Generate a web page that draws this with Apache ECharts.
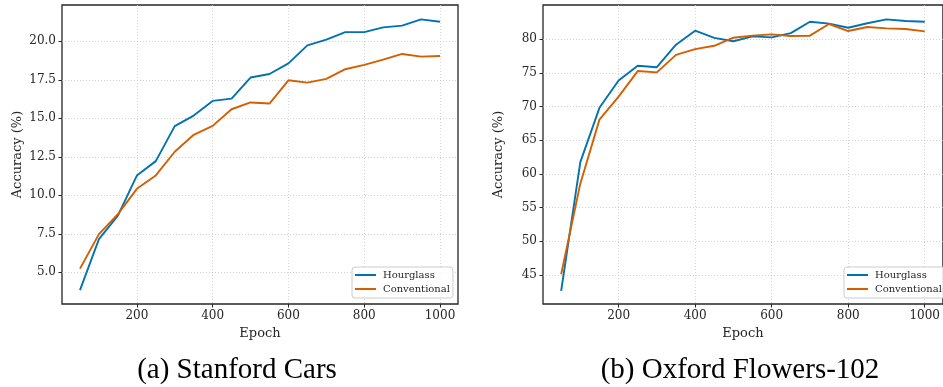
<!DOCTYPE html>
<html>
<head>
<meta charset="utf-8">
<script src="https://cdn.jsdelivr.net/npm/echarts@6/dist/echarts.min.js"></script>
<style>
html, body { margin: 0; padding: 0; background: #fff; }
#chart { width: 943px; height: 387px; }
</style>
</head>
<body>
<div id="chart"></div>
<script>
//数据
var epochs = [50, 100, 150, 200, 250, 300, 350, 400, 450, 500, 550, 600, 650, 700, 750, 800, 850, 900, 950, 1000];
var carsHourglass = [3.84, 7.15, 8.68, 11.28, 12.22, 14.49, 15.18, 16.13, 16.28, 17.65, 17.88, 18.57, 19.74, 20.11, 20.60, 20.60, 20.91, 21.02, 21.43, 21.27];
var carsConventional = [5.24, 7.48, 8.78, 10.42, 11.29, 12.83, 13.93, 14.51, 15.59, 16.03, 15.96, 17.47, 17.32, 17.56, 18.19, 18.47, 18.81, 19.18, 19.01, 19.05];
var flowersHourglass = [42.65, 61.75, 69.8, 73.86, 76.04, 75.82, 79.16, 81.24, 80.18, 79.67, 80.4, 80.25, 80.87, 82.57, 82.28, 81.68, 82.35, 82.92, 82.67, 82.57];
var flowersConventional = [45.12, 58.55, 68.05, 71.45, 75.25, 75.05, 77.65, 78.5, 79.0, 80.2, 80.5, 80.7, 80.45, 80.5, 82.23, 81.19, 81.78, 81.58, 81.49, 81.14];
var xTicks = [200, 400, 600, 800, 1000];
var carsYTicks = [5, 7.5, 10, 12.5, 15, 17.5, 20];
var flowersYTicks = [45, 50, 55, 60, 65, 70, 75, 80];
var seriesNames = ['Hourglass', 'Conventional'];
var captions = ['(a) Stanford Cars', '(b) Oxford Flowers-102'];

var blue = '#0072b2';
var orange = '#d55e00';
var ink = '#262626';
var font = 'DejaVu Serif';

function pairs(ys) {
    var out = [];
    for (var i = 0; i < epochs.length; i++) out.push([epochs[i], ys[i]]);
    return out;
}

function xAxisOf(idx) {
    return {
        type: 'value', gridIndex: idx, min: 2.5, max: 1047.5,
        name: 'Epoch', nameLocation: 'middle', nameGap: 19,
        nameTextStyle: { fontFamily: font, fontSize: 13, color: ink },
        axisLine: { show: false },
        axisTick: { show: true, length: 3.5, customValues: xTicks, lineStyle: { color: ink, width: 1 } },
        axisLabel: {
            customValues: xTicks, margin: 6, fontFamily: font, fontSize: 12, color: ink,
            formatter: function (v) { return String(v); }
        },
        splitLine: { show: true, lineStyle: { color: '#c8c8c8', type: [1, 2], width: 0.8 } }
    };
}

function yAxisOf(idx, min, max, ticks, digits) {
    return {
        type: 'value', gridIndex: idx, min: min, max: max,
        name: 'Accuracy (%)', nameLocation: 'middle', nameGap: 38,
        nameTextStyle: { fontFamily: font, fontSize: 13, color: ink },
        axisLine: { show: false },
        axisTick: { show: true, length: 3.5, customValues: ticks, lineStyle: { color: ink, width: 1 } },
        axisLabel: {
            customValues: ticks, margin: 6, fontFamily: font, fontSize: 12, color: ink,
            formatter: function (v) { return v.toFixed(digits); }
        },
        splitLine: { show: true, lineStyle: { color: '#c8c8c8', type: [1, 2], width: 0.8 } }
    };
}

function lineOf(name, ys, idx, color) {
    return {
        name: name, type: 'line', xAxisIndex: idx, yAxisIndex: idx,
        data: pairs(ys), showSymbol: false, symbol: 'none', silent: true,
        lineStyle: { color: color, width: 1.9 }, itemStyle: { color: color },
        animation: false
    };
}

function legendOf(left) {
    return {
        left: left, top: 267, orient: 'vertical',
        data: seriesNames, icon: 'rect', itemWidth: 21, itemHeight: 2, itemGap: 2,
        padding: [2, 3, 3, 3],
        backgroundColor: 'rgba(255,255,255,0.85)', borderColor: '#cccccc', borderWidth: 1, borderRadius: 3,
        textStyle: { fontFamily: font, fontSize: 10, color: ink, lineHeight: 12, padding: [0, 0, 0, 2] }
    };
}

function captionOf(x, text) {
    return {
        type: 'text', x: x, y: 370,
        style: { text: text, fill: '#000', fontFamily: 'Liberation Serif', fontSize: 29, align: 'center', verticalAlign: 'middle' }
    };
}

var myChart = echarts.init(document.getElementById('chart'));
var myoption = {
    animation: false,
    color: [blue, orange],
    grid: [
        { left: 62, top: 5, width: 396, height: 299, show: true, borderColor: ink, borderWidth: 1.3, backgroundColor: 'transparent' },
        { left: 543, top: 5, width: 408, height: 299, show: true, borderColor: ink, borderWidth: 1.3, backgroundColor: 'transparent' }
    ],
    xAxis: [xAxisOf(0), xAxisOf(1)],
    yAxis: [
        yAxisOf(0, 2.94, 22.36, carsYTicks, 1),
        yAxisOf(1, 40.7, 85.05, flowersYTicks, 0)
    ],
    legend: [legendOf(352), legendOf(844)],
    series: [
        lineOf(seriesNames[0], carsHourglass, 0, blue),
        lineOf(seriesNames[1], carsConventional, 0, orange),
        lineOf(seriesNames[0], flowersHourglass, 1, blue),
        lineOf(seriesNames[1], flowersConventional, 1, orange)
    ],
    graphic: [captionOf(237, captions[0]), captionOf(740, captions[1])]
};
myChart.setOption(myoption);

window.onresize = function () {
    myChart.resize();
};
</script>
</body>
</html>
